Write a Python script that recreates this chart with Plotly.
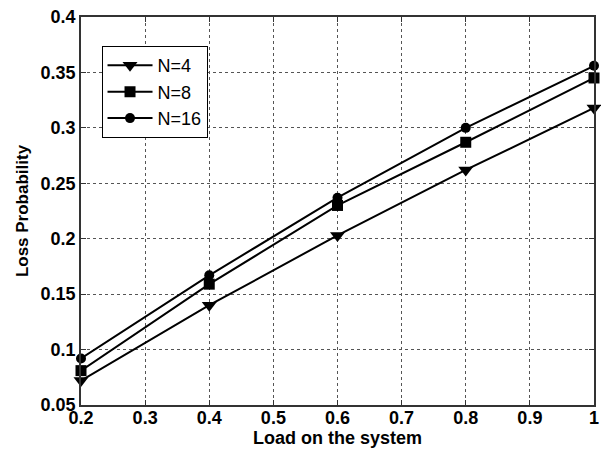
import plotly.graph_objects as go

load = [0.2, 0.4, 0.6, 0.8, 1.0]
n4 = [0.072, 0.140, 0.203, 0.262, 0.318]
n8 = [0.081, 0.159, 0.230, 0.287, 0.345]
n16 = [0.092, 0.167, 0.237, 0.300, 0.356]

x_ticks = [0.2, 0.3, 0.4, 0.5, 0.6, 0.7, 0.8, 0.9, 1.0]
x_ticktext = ["0.2", "0.3", "0.4", "0.5", "0.6", "0.7", "0.8", "0.9", "1"]
y_ticks = [0.05, 0.1, 0.15, 0.2, 0.25, 0.3, 0.35, 0.4]
y_ticktext = ["0.05", "0.1", "0.15", "0.2", "0.25", "0.3", "0.35", "0.4"]

series = [
    ("N=4", n4, "triangle-down", 13),
    ("N=8", n8, "square", 11),
    ("N=16", n16, "circle", 10),
]

fig = go.Figure()
for name, vals, sym, sz in series:
    fig.add_trace(go.Scatter(
        x=load, y=vals, name=name, mode="lines+markers",
        line=dict(color="black", width=2),
        marker=dict(symbol=sym, size=sz, color="black"),
        cliponaxis=False,
    ))

FONT = "Liberation Sans, Arial"
axis_common = dict(
    showline=True, linecolor="#333333", linewidth=1.5, mirror="ticks",
    ticks="inside", ticklen=5, tickcolor="#333333",
    showgrid=True, gridcolor="#555555", griddash="dot", gridwidth=1,
    zeroline=False, ticklabeloverflow="allow",
    tickfont=dict(family=FONT, size=18, color="black", weight="bold"),
)

fig.update_xaxes(
    range=[0.2, 1.0], tickvals=x_ticks, ticktext=x_ticktext,
    ticklabelstandoff=-4,
    title=dict(text="Load on the system", standoff=4,
               font=dict(family=FONT, size=18, color="black", weight="bold")),
    **axis_common,
)
fig.update_yaxes(
    range=[0.05, 0.4], tickvals=y_ticks, ticktext=y_ticktext,
    title=dict(text="Loss Probability", standoff=8,
               font=dict(family=FONT, size=17, color="black", weight="bold")),
    **axis_common,
)

fig.update_layout(
    width=601, height=452,
    margin=dict(l=81, r=2, t=17, b=47),
    plot_bgcolor="white", paper_bgcolor="white",
    showlegend=True,
    legend=dict(
        x=0.04, y=0.925, xanchor="left", yanchor="top",
        bgcolor="white", bordercolor="black", borderwidth=1,
        font=dict(family=FONT, size=18, color="black"),
        tracegroupgap=0, itemwidth=45,
    ),
)

fig.write_html("out.html", config={"displayModeBar": False},
               post_script="document.body.style.margin='0';")
